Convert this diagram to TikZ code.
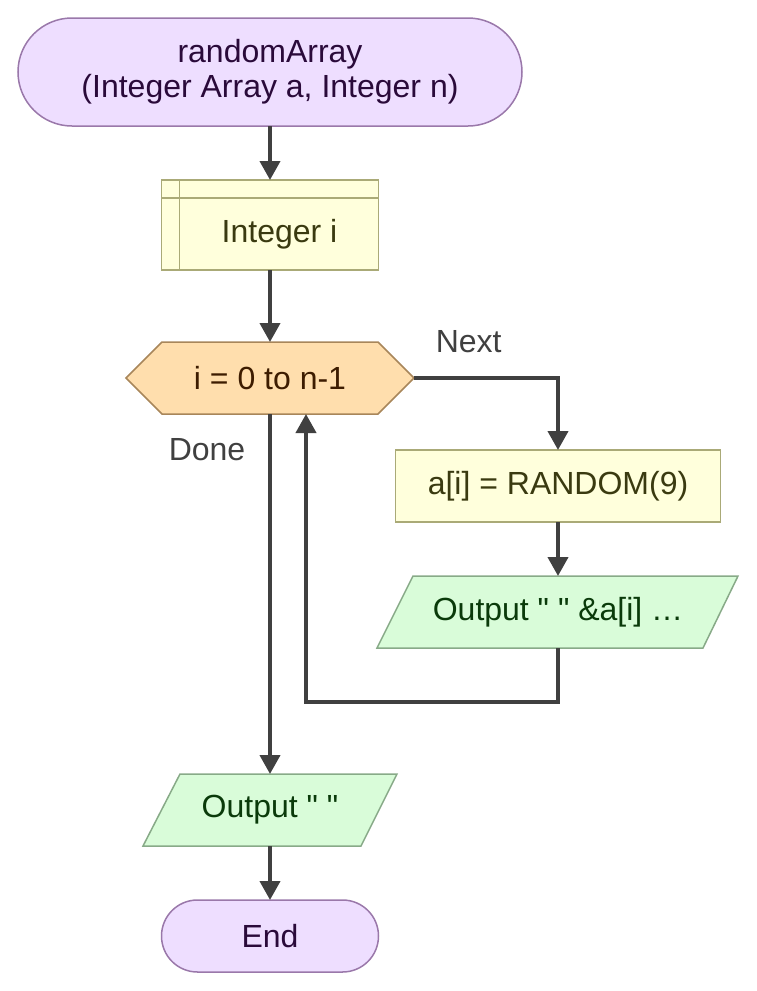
\documentclass[tikz,border=0pt]{standalone}
\usepackage{fontspec}
\newfontfamily\chartfont{Liberation Sans}
\usetikzlibrary{positioning}
\usetikzlibrary{arrows.meta}

\definecolor{termfill}{HTML}{EEDEFF}
\definecolor{termline}{HTML}{9A78AA}
\definecolor{termtext}{HTML}{2A0A3A}
\definecolor{procfill}{HTML}{FFFFDC}
\definecolor{procline}{HTML}{AAAA77}
\definecolor{proctext}{HTML}{3A3A10}
\definecolor{loopfill}{HTML}{FFDEAD}
\definecolor{loopline}{HTML}{A8865A}
\definecolor{looptext}{HTML}{3D1C00}
\definecolor{iofill}{HTML}{D9FCD9}
\definecolor{ioline}{HTML}{88AA88}
\definecolor{iotext}{HTML}{0A3A0A}
\definecolor{flowline}{HTML}{404040}

\begin{document}
\begin{tikzpicture}[x = 1pt, y = -1pt,
		every node/.style = {font = \chartfont\fontsize{32}{35}\selectfont, inner sep = 0pt, outer sep = 0pt},
		terminal/.style = {draw = termline, fill = termfill, text = termtext, line width = 1.5pt, minimum height = 72pt, rounded corners = 36pt},
		process/.style = {draw = procline, fill = procfill, text = proctext, line width = 1.5pt, minimum height = 72pt},
		flow/.style = {draw = flowline, line width = 4pt, -{Triangle[length = 19pt, width = 20pt]}},
		lbl/.style = {text = flowline}
	]
	\useasboundingbox (0, 0) rectangle (757, 991);

	% start and declaration
	\node [terminal, minimum width = 504pt, minimum height = 108pt, rounded corners = 54pt, align = center] (start) at (270, 72) {randomArray\\(Integer Array a, Integer n)};
	\node [process, minimum width = 217pt, minimum height = 90pt] (decl) at (270, 225) {};
	\draw [procline, line width = 1.5pt] ([xshift = 18pt]decl.north west) -- ([xshift = 18pt]decl.south west);
	\draw [procline, line width = 1.5pt] ([yshift = -18pt]decl.north west) -- ([yshift = -18pt]decl.north east);
	\node [text = proctext] (decltext) at (279.5, 234) {Integer i};

	% for loop
	\filldraw [draw = loopline, fill = loopfill, line width = 1.5pt] (126, 378) -- (162, 342) -- (378, 342) -- (414, 378) -- (378, 414) -- (162, 414) -- cycle;
	\node [text = looptext, minimum width = 288pt, minimum height = 72pt] (loop) at (270, 378) {i = 0 to n-1};

	% loop body
	\node [process, minimum width = 325pt] (body) at (558, 486) {a[i] = RANDOM(9)};
	\filldraw [draw = ioline, fill = iofill, line width = 1.5pt] (413, 576) -- (738, 576) -- (703, 648) -- (377, 648) -- cycle;
	\node [text = iotext, minimum width = 325pt, minimum height = 72pt] (out1) at (558, 612) {Output " " \&a[i] …};

	% after loop
	\filldraw [draw = ioline, fill = iofill, line width = 1.5pt] (180, 774) -- (397, 774) -- (361, 846) -- (143, 846) -- cycle;
	\node [text = iotext, minimum width = 217pt, minimum height = 72pt] (out2) at (270, 810) {Output " "};
	\node [terminal, minimum width = 217pt] (end) at (270, 936) {End};

	% connectors
	\draw [flow] (start.south) -- (decl.north);
	\draw [flow] (decl.south) -- (loop.north);
	\draw [flow] (loop.east) -| node [lbl, pos = 0.19, yshift = 36pt] (next) {Next} (body.north);
	\draw [flow] (body.south) -- (out1.north);
	\draw [flow] (out1.south) -- ++(0, 54) -| ([xshift = 36pt]loop.south);
	\draw [flow] (loop.south) -- node [lbl, pos = 0.1, xshift = -63pt] (done) {Done} (out2.north);
	\draw [flow] (out2.south) -- (end.north);
\end{tikzpicture}
\end{document}
